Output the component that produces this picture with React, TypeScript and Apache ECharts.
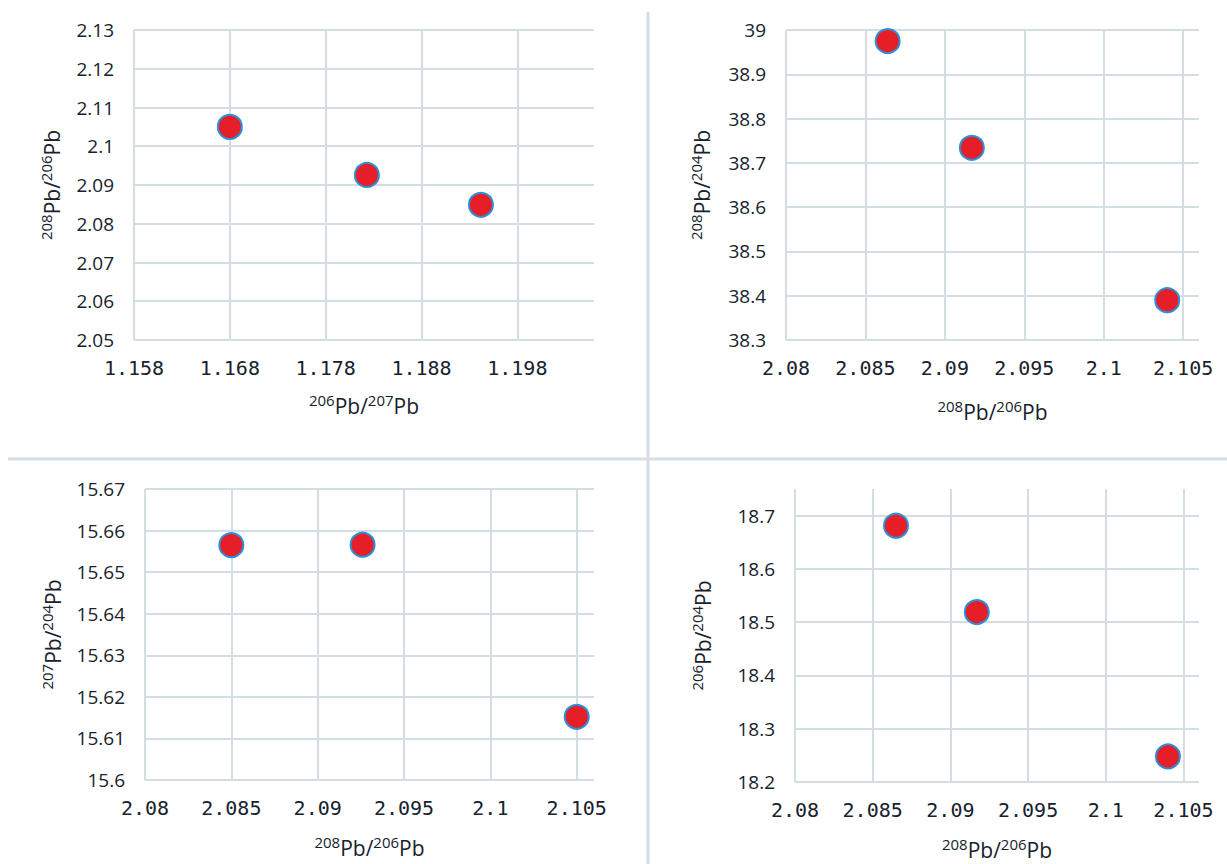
import React, { useEffect, useRef } from "react";
import * as echarts from "echarts";

// Panel 1: 206Pb/207Pb vs 208Pb/206Pb
const p1X = [1.168, 1.1823, 1.1942];
const p1Y = [2.105, 2.0926, 2.0849];
// Panel 2: 208Pb/206Pb vs 208Pb/204Pb
const p2X = [2.0864, 2.0917, 2.104];
const p2Y = [38.975, 38.734, 38.39];
// Panel 3: 208Pb/206Pb vs 207Pb/204Pb
const p3X = [2.085, 2.0926, 2.105];
const p3Y = [15.6565, 15.6566, 15.6152];
// Panel 4: 208Pb/206Pb vs 206Pb/204Pb
const p4X = [2.0865, 2.0917, 2.104];
const p4Y = [18.681, 18.519, 18.248];

// tick labels
const x1Ticks = [1.158, 1.168, 1.178, 1.188, 1.198];
const y1Ticks = [2.05, 2.06, 2.07, 2.08, 2.09, 2.1, 2.11, 2.12, 2.13];
const x2Ticks = [2.08, 2.085, 2.09, 2.095, 2.1, 2.105];
const y2Ticks = [38.3, 38.4, 38.5, 38.6, 38.7, 38.8, 38.9, 39];
const y3Ticks = [15.6, 15.61, 15.62, 15.63, 15.64, 15.65, 15.66, 15.67];
const y4Ticks = [18.2, 18.3, 18.4, 18.5, 18.6, 18.7];

// axis extents
const x1Range = [1.158, 1.206];
const y1Range = [2.05, 2.13];
const xPbRange = [2.08, 2.106];
const y2Range = [38.3, 39];
const y3Range = [15.6, 15.67];
const y4Range = [18.2, 18.75];

// axis titles
const t208_206 = "{s|208}{m|Pb/}{s|206}{m|Pb}";
const t206_207 = "{s|206}{m|Pb/}{s|207}{m|Pb}";
const t208_204 = "{s|208}{m|Pb/}{s|204}{m|Pb}";
const t207_204 = "{s|207}{m|Pb/}{s|204}{m|Pb}";
const t206_204 = "{s|206}{m|Pb/}{s|204}{m|Pb}";

const TXT = "#17222d";
const GRID = "#d3dde4";

const fmt = (v: number) => String(parseFloat(Number(v).toFixed(6)));

const rich = {
  s: { fontSize: 15, fontFamily: "Open Sans", color: TXT, verticalAlign: "top", lineHeight: 8 },
  m: { fontSize: 21, fontFamily: "Open Sans", color: TXT, verticalAlign: "bottom", lineHeight: 24 },
};

function xAxis(idx: number, range: number[], ticks: number[], name: string, gap: number) {
  return {
    type: "value",
    gridIndex: idx,
    min: range[0],
    max: range[1],
    name,
    nameLocation: "middle",
    nameGap: gap,
    nameTextStyle: { rich },
    axisLine: { show: false },
    axisTick: { show: false, customValues: ticks },
    axisLabel: {
      customValues: ticks,
      formatter: fmt,
      margin: 18,
      fontFamily: "DejaVu Sans Mono",
      fontSize: 20,
      color: TXT,
    },
    splitLine: { show: true, lineStyle: { color: GRID, width: 2 } },
  };
}

function yAxis(idx: number, range: number[], ticks: number[], name: string, gap: number) {
  return {
    type: "value",
    gridIndex: idx,
    min: range[0],
    max: range[1],
    name,
    nameLocation: "middle",
    nameGap: gap,
    nameRotate: 90,
    nameTextStyle: { rich },
    axisLine: { show: false },
    axisTick: { show: false, customValues: ticks },
    axisLabel: {
      customValues: ticks,
      formatter: fmt,
      margin: 20,
      fontFamily: "Open Sans",
      fontSize: 19,
      color: TXT,
    },
    splitLine: { show: true, lineStyle: { color: GRID, width: 2 } },
  };
}

function pairs(xs: number[], ys: number[]) {
  return xs.map((x, i) => [x, ys[i]]);
}

function scatter(idx: number, xs: number[], ys: number[]) {
  return {
    type: "scatter",
    xAxisIndex: idx,
    yAxisIndex: idx,
    data: pairs(xs, ys),
    symbolSize: 24,
    itemStyle: { color: "#e61e28", borderColor: "#2c8fd8", borderWidth: 2, opacity: 1 },
  };
}

export default function App() {
  const ref = useRef<HTMLDivElement>(null);
  useEffect(() => {
    if (!ref.current) return;
    const chart = echarts.init(ref.current, undefined, { renderer: "svg" });
    chart.setOption({
      animation: false,
      backgroundColor: "#ffffff",
      grid: [
        { left: 134, top: 30, width: 460, height: 310 },
        { left: 786, top: 30, width: 413, height: 310 },
        { left: 145, top: 489, width: 449, height: 291 },
        { left: 795, top: 489, width: 404, height: 293 },
      ],
      xAxis: [
        xAxis(0, x1Range, x1Ticks, t206_207, 52),
        xAxis(1, xPbRange, x2Ticks, t208_206, 58),
        xAxis(2, xPbRange, x2Ticks, t208_206, 54),
        xAxis(3, xPbRange, x2Ticks, t208_206, 54),
      ],
      yAxis: [
        yAxis(0, y1Range, y1Ticks, t208_206, 72),
        yAxis(1, y2Range, y2Ticks, t208_204, 74),
        yAxis(2, y3Range, y3Ticks, t207_204, 82),
        yAxis(3, y4Range, y4Ticks, t206_204, 82),
      ],
      series: [
        scatter(0, p1X, p1Y),
        scatter(1, p2X, p2Y),
        scatter(2, p3X, p3Y),
        scatter(3, p4X, p4Y),
      ],
      graphic: [
        { type: "line", shape: { x1: 648, y1: 12, x2: 648, y2: 864 }, style: { stroke: "#d5dee5", lineWidth: 3 } },
        { type: "line", shape: { x1: 8, y1: 459, x2: 1227, y2: 459 }, style: { stroke: "#d5dee5", lineWidth: 3 } },
      ],
    });
    return () => chart.dispose();
  }, []);
  return (
    <div
      ref={ref}
      style={{ position: "fixed", left: 0, top: 0, width: 1227, height: 864, background: "#fff" }}
    />
  );
}
